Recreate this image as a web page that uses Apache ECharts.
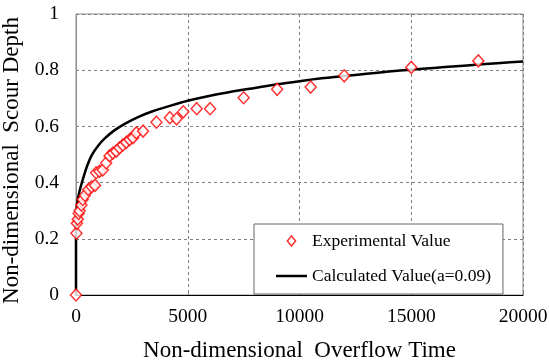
<!DOCTYPE html>
<html>
<head>
<meta charset="utf-8">
<script src="https://cdn.jsdelivr.net/npm/echarts@6/dist/echarts.min.js"></script>
<style>
html,body{margin:0;padding:0;background:#fff;}
#chart{width:549px;height:363px;}
</style>
</head>
<body>
<div id="chart"></div>
<script>
// Experimental data (non-dimensional overflow time, non-dimensional scour depth)
var expTime  = [0, 20, 40, 80, 120, 160, 240, 300, 400, 550, 700, 850, 900, 1050, 1200, 1350, 1500, 1650, 1800, 1950, 2100, 2250, 2400, 2550, 2700, 3000, 3600, 4200, 4500, 4800, 5400, 6000, 7500, 9000, 10500, 12000, 15000, 18000];
var expDepth = [0, 0.22, 0.255, 0.27, 0.29, 0.30, 0.32, 0.34, 0.355, 0.375, 0.385, 0.39, 0.435, 0.44, 0.445, 0.47, 0.495, 0.505, 0.512, 0.524, 0.534, 0.543, 0.553, 0.56, 0.577, 0.583, 0.615, 0.631, 0.627, 0.652, 0.663, 0.663, 0.702, 0.732, 0.74, 0.78, 0.81, 0.833];
// Calculated curve (a=0.09)
var calcTime  = [0, 0, 30, 80, 165, 300, 500, 700, 1000, 1300, 1700, 2200, 2800, 3400, 4200, 5000, 6000, 7000, 8000, 9000, 10000, 11000, 12000, 13000, 14000, 15000, 16000, 17000, 18000, 19000, 20000];
var calcDepth = [0, 0.27, 0.31, 0.34, 0.372, 0.41, 0.46, 0.497, 0.532, 0.558, 0.585, 0.61, 0.634, 0.653, 0.673, 0.691, 0.709, 0.724, 0.737, 0.75, 0.761, 0.771, 0.779, 0.787, 0.795, 0.802, 0.808, 0.814, 0.82, 0.826, 0.831];
var xTicks = [0, 5000, 10000, 15000, 20000];
var yTicks = [0, 0.2, 0.4, 0.6, 0.8, 1];
var seriesNames = ['Experimental Value', 'Calculated Value(a=0.09)'];
var xTitle = 'Non-dimensional  Overflow Time';
var yTitle = 'Non-dimensional  Scour Depth';

function zip(a, b) { return a.map(function (v, i) { return [v, b[i]]; }); }

var diamond = 'path://M5,0 L10,6 L5,12 L0,6 Z';
var font = '"Liberation Serif", "Times New Roman", serif';
var chart = echarts.init(document.getElementById('chart'), null, {renderer: 'canvas'});
chart.setOption({
  animation: false,
  backgroundColor: '#fff',
  textStyle: {fontFamily: font, color: '#000'},
  grid: {left: 76, right: 26, top: 14, bottom: 68, show: true, borderColor: '#8c8c8c', borderWidth: 1,
         containLabel: false, outerBoundsMode: 'none'},
  xAxis: {
    type: 'value', min: xTicks[0], max: xTicks[xTicks.length - 1], interval: 5000,
    name: xTitle, nameLocation: 'middle', nameGap: 44,
    nameTextStyle: {fontFamily: font, fontSize: 23, color: '#000'},
    axisLine: {lineStyle: {color: '#000', width: 1}},
    axisTick: {show: true, inside: true, length: 4, lineStyle: {color: '#808080'}},
    axisLabel: {fontFamily: font, fontSize: 19.5, color: '#000', margin: 12,
                formatter: function (v) { return String(v); }},
    splitLine: {show: true, lineStyle: {color: '#808080', type: [3, 3], width: 1}}
  },
  yAxis: {
    type: 'value', min: yTicks[0], max: yTicks[yTicks.length - 1], interval: 0.2,
    name: yTitle, nameLocation: 'middle', nameGap: 37,
    nameTextStyle: {fontFamily: font, fontSize: 23, color: '#000', padding: [0, 12, 0, 0]},
    axisLine: {show: true, lineStyle: {color: '#8c8c8c', width: 1}},
    axisTick: {show: false},
    axisLabel: {fontFamily: font, fontSize: 19.5, color: '#000', margin: 17},
    splitLine: {show: true, lineStyle: {color: '#808080', type: [3, 3], width: 1}}
  },
  legend: {
    orient: 'vertical', left: 254, top: 224,
    padding: [8, 12, 9, 22], itemGap: 17, itemWidth: 31, itemHeight: 10,
    symbolKeepAspect: true,
    backgroundColor: '#fff', borderColor: '#666', borderWidth: 1,
    textStyle: {fontFamily: font, fontSize: 17.5, color: '#000'},
    data: [
      {name: seriesNames[0], icon: diamond,
       itemStyle: {color: '#fff', borderColor: '#ff0000', borderWidth: 1.5}},
      {name: seriesNames[1], icon: 'path://M0,0 L31,0 L31,2.5 L0,2.5 Z',
       itemStyle: {color: '#000', borderWidth: 0}}
    ]
  },
  series: [
    {
      name: seriesNames[1], type: 'line', data: zip(calcTime, calcDepth),
      showSymbol: false, symbol: 'none', smooth: 0.3, z: 2,
      lineStyle: {color: '#000', width: 2.5}, itemStyle: {color: '#000'}
    },
    {
      name: seriesNames[0], type: 'scatter', data: zip(expTime, expDepth),
      symbol: diamond, symbolSize: [11, 12], z: 3,
      itemStyle: {color: '#fff', borderColor: '#ff0000', borderWidth: 1.5}
    }
  ]
});
</script>
</body>
</html>
